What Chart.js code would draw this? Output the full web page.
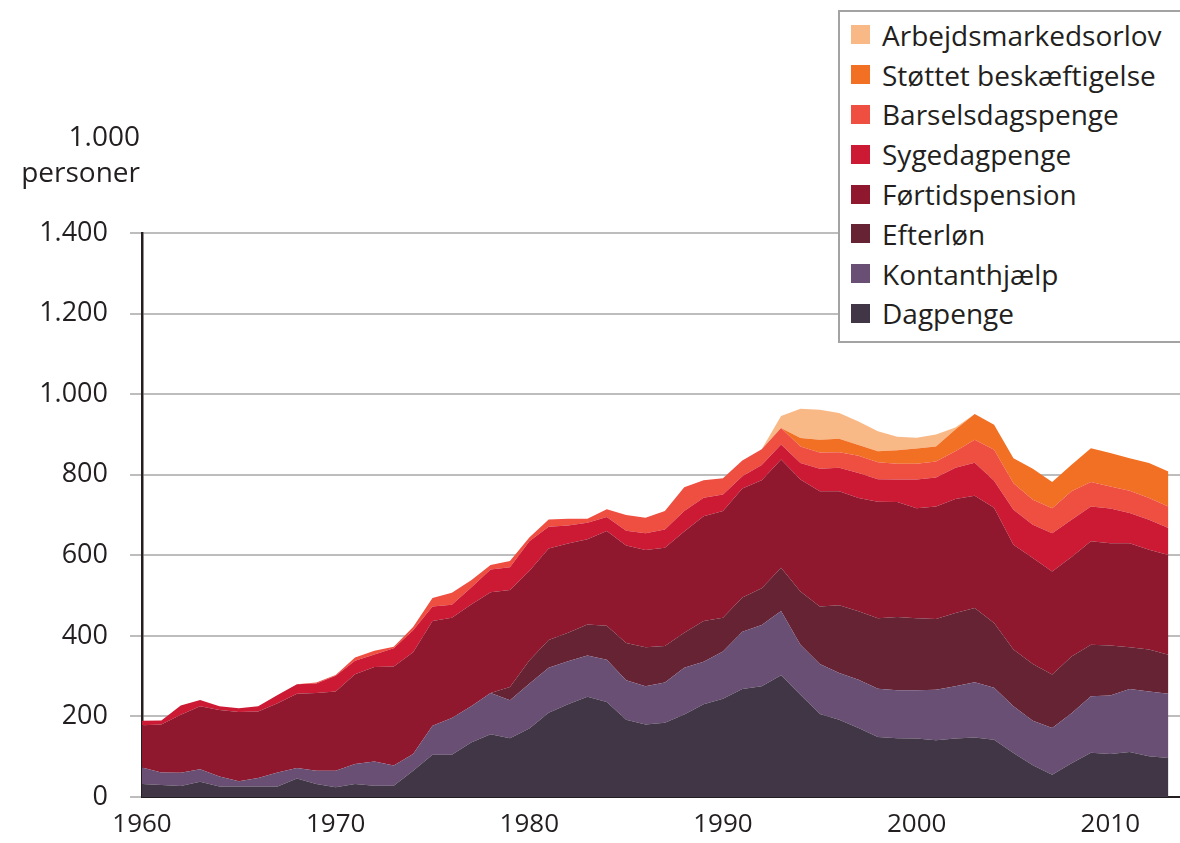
<!DOCTYPE html>
<html>
<head>
<meta charset="utf-8">
<script src="https://cdn.jsdelivr.net/npm/chart.js@4.4.1/dist/chart.umd.min.js"></script>
<style>
  html, body { margin: 0; padding: 0; background: #fff; }
  #wrap { position: relative; width: 1180px; height: 843px; overflow: hidden; font-family: "Open Sans", sans-serif; color: #231f20; }
  #unit { position: absolute; right: 1040px; top: 117px; text-align: right; font-size: 28px; line-height: 36px; }
  #legend { position: absolute; left: 838px; top: 10px; width: 360px; height: 333px; border: 2px solid #a3a3a3; background: #fff; box-sizing: border-box; padding-top: 3px; }
  .item { height: 39.8px; display: flex; align-items: center; }
  .box { width: 19px; height: 19px; margin-left: 11px; margin-right: 12px; }
  .lab { font-size: 28px; }
</style>
</head>
<body>
<div id="wrap">
  <canvas id="areaChart" width="1180" height="843"></canvas>
  <div id="unit">1.000<br>personer</div>
  <div id="legend"></div>
</div>
<script>
// Years and series (1.000 personer)
const years = [1960, 1961, 1962, 1963, 1964, 1965, 1966, 1967, 1968, 1969,
  1970, 1971, 1972, 1973, 1974, 1975, 1976, 1977, 1978, 1979,
  1980, 1981, 1982, 1983, 1984, 1985, 1986, 1987, 1988, 1989,
  1990, 1991, 1992, 1993, 1994, 1995, 1996, 1997, 1998, 1999,
  2000, 2001, 2002, 2003, 2004, 2005, 2006, 2007, 2008, 2009,
  2010, 2011, 2012, 2013];

const dagpenge = [32, 30, 27, 38, 26, 26, 26, 26, 46, 32,
  24, 32, 28, 28, 65, 105, 105, 135, 156, 146,
  170, 209, 230, 249, 236, 192, 180, 184, 205, 230,
  244, 268, 275, 302, 254, 206, 192, 171, 149, 146,
  145, 141, 145, 148, 142, 109, 79, 55, 84, 110,
  107, 112, 101, 97];

const kontanthjaelp = [41, 31, 33, 31, 25, 13, 21, 35, 26, 33,
  41, 50, 60, 50, 42, 72, 91, 90, 102, 94,
  111, 112, 107, 102, 105, 98, 95, 100, 116, 106,
  117, 142, 152, 160, 124, 124, 116, 120, 120, 119,
  120, 125, 130, 137, 129, 116, 110, 116, 124, 140,
  145, 156, 161, 159];

const efterloen = [0, 0, 0, 0, 0, 0, 0, 0, 0, 0,
  0, 0, 0, 0, 0, 0, 0, 0, 0, 33,
  58, 69, 71, 77, 84, 92, 97, 91, 87, 101,
  84, 85, 91, 107, 132, 143, 168, 170, 175, 182,
  179, 176, 182, 184, 161, 141, 141, 133, 141, 128,
  124, 104, 104, 97];

const foertidspension = [105, 119, 144, 156, 165, 172, 165, 172, 184, 193,
  197, 223, 235, 246, 252, 260, 249, 253, 250, 241,
  222, 227, 221, 212, 235, 242, 241, 244, 251, 260,
  265, 271, 268, 269, 278, 286, 283, 281, 289, 285,
  273, 279, 283, 279, 286, 260, 263, 256, 247, 257,
  254, 258, 248, 248];

const sygedagpenge = [11, 10, 23, 16, 9, 9, 13, 20, 24, 24,
  39, 33, 31, 45, 55, 36, 32, 42, 57, 56,
  74, 54, 45, 41, 35, 37, 42, 45, 51, 46,
  41, 30, 38, 37, 41, 56, 58, 62, 56, 56,
  71, 72, 77, 82, 67, 87, 83, 95, 92, 86,
  86, 75, 74, 67];

const barselsdagpenge = [0, 0, 0, 0, 0, 0, 0, 0, 0, 2,
  2, 8, 9, 4, 8, 21, 30, 18, 11, 16,
  9, 18, 17, 10, 19, 39, 38, 46, 59, 43,
  40, 39, 39, 41, 41, 40, 39, 43, 42, 39,
  39, 40, 41, 57, 77, 66, 62, 62, 71, 61,
  55, 55, 54, 53];

const stoettetBeskaeftigelse = [0, 0, 0, 0, 0, 0, 0, 0, 0, 0,
  0, 0, 0, 0, 0, 0, 0, 0, 0, 0,
  0, 0, 0, 0, 0, 0, 0, 0, 0, 0,
  0, 0, 0, 0, 21, 32, 33, 27, 27, 34,
  38, 37, 54, 64, 62, 62, 77, 65, 66, 84,
  83, 81, 87, 87];

const arbejdsmarkedsorlov = [0, 0, 0, 0, 0, 0, 0, 0, 0, 0,
  0, 0, 0, 0, 0, 0, 0, 0, 0, 0,
  0, 0, 0, 0, 0, 0, 0, 0, 0, 0,
  0, 0, 0, 30, 73, 74, 64, 58, 50, 33,
  27, 30, 5, 0, 0, 0, 0, 0, 0, 0,
  0, 0, 0, 0];

const yTicks = [0, 200, 400, 600, 800, 1000, 1200, 1400];
const xTicks = [1960, 1970, 1980, 1990, 2000, 2010];

// bottom layer first
const series = [
  { label: "Dagpenge", data: dagpenge, color: "#403646" },
  { label: "Kontanthjælp", data: kontanthjaelp, color: "#6a4f75" },
  { label: "Efterløn", data: efterloen, color: "#662334" },
  { label: "Førtidspension", data: foertidspension, color: "#8f182e" },
  { label: "Sygedagpenge", data: sygedagpenge, color: "#cc1a35" },
  { label: "Barselsdagspenge", data: barselsdagpenge, color: "#ee4f40" },
  { label: "Støttet beskæftigelse", data: stoettetBeskaeftigelse, color: "#f17023" },
  { label: "Arbejdsmarkedsorlov", data: arbejdsmarkedsorlov, color: "#f9b987" },
];

const fmt = (v) => String(v).replace(/\B(?=(\d{3})+(?!\d))/g, ".");

const ctx = document.getElementById("areaChart").getContext("2d");
new Chart(ctx, {
  type: "line",
  data: {
    datasets: series.map((s, i) => ({
      label: s.label,
      data: years.map((yr, j) => ({ x: yr, y: s.data[j] })),
      backgroundColor: s.color,
      borderColor: s.color,
      borderWidth: 0,
      pointRadius: 0,
      tension: 0,
      fill: i === 0 ? "origin" : "-1",
    })),
  },
  options: {
    responsive: false,
    animation: false,
    layout: { padding: { top: 233, right: 0, left: 0, bottom: 0 } },
    plugins: {
      legend: { display: false },
      tooltip: { enabled: false },
    },
    scales: {
      x: {
        type: "linear",
        min: 1960,
        max: 2013.6,
        afterFit: (s) => { s.height = 46; },
        afterBuildTicks: (s) => { s.ticks = xTicks.map((v) => ({ value: v })); },
        grid: { display: false },
        border: { color: "#231f20", width: 2 },
        ticks: {
          padding: 4,
          color: "#231f20",
          font: { family: "Open Sans", size: 26 },
          maxRotation: 0,
          callback: (v) => String(v),
        },
      },
      y: {
        stacked: true,
        min: 0,
        max: 1400,
        afterFit: (s) => { s.width = 142; },
        afterBuildTicks: (s) => { s.ticks = yTicks.map((v) => ({ value: v })); },
        grid: { color: "#bdbdbd", lineWidth: 2, tickLength: 12 },
        border: { color: "#231f20", width: 2.5 },
        ticks: {
          padding: 22,
          color: "#231f20",
          font: { family: "Open Sans", size: 27 },
          callback: (v) => fmt(v),
        },
      },
    },
  },
});

// legend, top layer first
const legendEl = document.getElementById("legend");
series.slice().reverse().forEach((s) => {
  const row = document.createElement("div");
  row.className = "item";
  row.innerHTML = '<span class="box" style="background:' + s.color + '"></span><span class="lab">' + s.label + "</span>";
  legendEl.appendChild(row);
});
</script>
</body>
</html>
